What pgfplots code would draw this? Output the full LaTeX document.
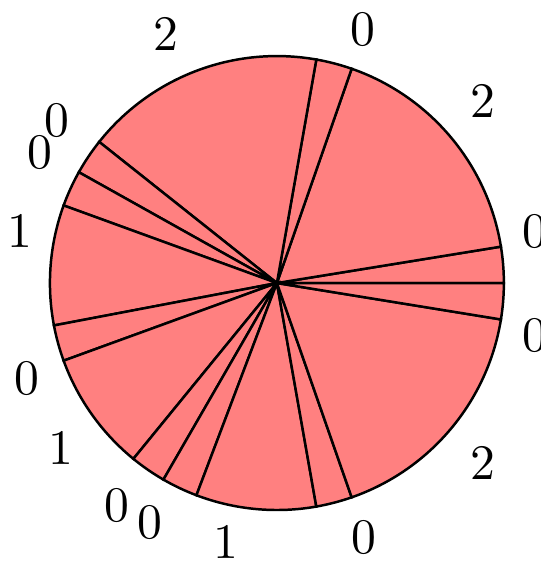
\documentclass[border=0pt]{standalone}
\usepackage{pgfplots}
\usepackage{pgfplotstable}
\pgfplotsset{compat=1.18}

% slice values (counter-clockwise from 0 deg) and label positions
\pgfplotstableread{
value lx      ly
0.3    1.137   0.229
2      0.907   0.802
0.3    0.379   1.115
2     -0.489   1.093
0.3   -0.969   0.714
0.3   -1.044   0.573
1     -1.132   0.229
0.3   -1.101  -0.419
1     -0.952  -0.727
0.3   -0.705  -0.978
0.3   -0.559  -1.053
1     -0.225  -1.145
0.3    0.383  -1.123
2      0.907  -0.793
0.3    1.137  -0.229
}\piedata

\def\pieR{45.7pt}

\begin{document}
\begin{tikzpicture}
% total of all slices
\xdef\pietotal{0}
\pgfplotstableforeachcolumnelement{value}\of\piedata\as\v{%
  \pgfmathsetmacro\tmp{\pietotal+\v}\xdef\pietotal{\tmp}}
% build the wedges
\xdef\pieangle{0}
\gdef\pieslices{}
\pgfplotstableforeachcolumnelement{value}\of\piedata\as\v{%
  \pgfmathsetmacro\tmp{\pieangle+360*\v/\pietotal}%
  \xdef\pieslices{\unexpanded\expandafter{\pieslices}%
    \noexpand\filldraw[fill=red!50, draw=black, line width=0.5pt]
      (axis cs:0,0) -- (axis cs:{cos(\pieangle)},{sin(\pieangle)})
      arc[start angle=\pieangle, end angle=\tmp, radius=\pieR] -- cycle;}%
  \xdef\pieangle{\tmp}}
\begin{axis}[
    scale only axis,
    width=108.90pt, height=113.15pt,
    xmin=-1.220, xmax=1.163,
    ymin=-1.229, ymax=1.247,
    hide axis,
    clip=false,
]
\pieslices
\addplot[
    draw=none, mark=none,
    nodes near coords,
    point meta=explicit,
    nodes near coords style={anchor=center, font=\normalsize,
        /pgf/number format/.cd, fixed, precision=0},
] table[x=lx, y=ly, meta=value] {\piedata};
\end{axis}
\pgfresetboundingbox
\useasboundingbox (current axis.south west) rectangle (current axis.north east);
\end{tikzpicture}
\end{document}
